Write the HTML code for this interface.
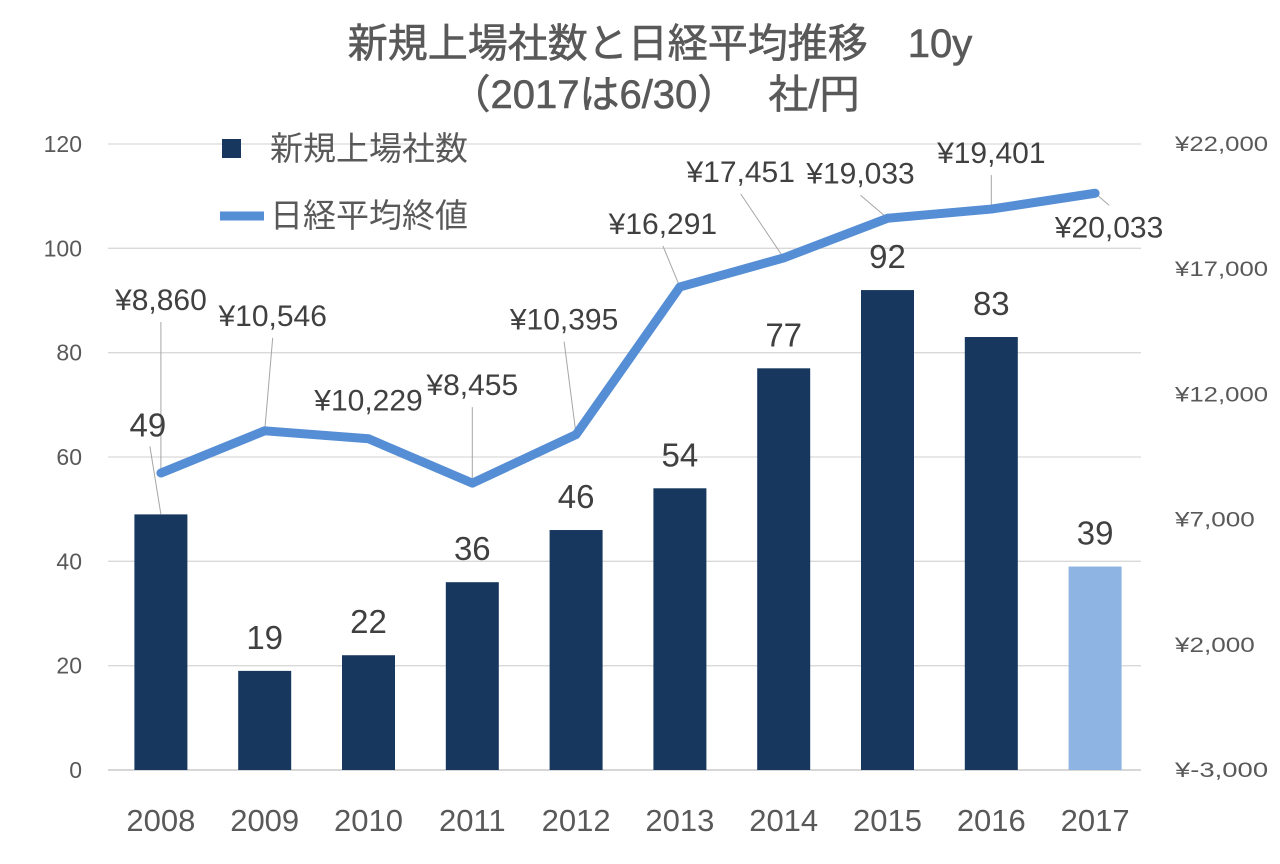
<!DOCTYPE html>
<html><head><meta charset="utf-8">
<style>
html,body{margin:0;padding:0;background:#fff;}
svg text{font-family:"Liberation Sans","Noto Sans CJK JP",sans-serif;}
</style></head>
<body>
<svg id="chart" width="1280" height="859" viewBox="0 0 1280 859">
<text x="660" y="57" text-anchor="middle" font-size="40" fill="#595959" stroke="#595959" stroke-width="0.6">新規上場社数と日経平均推移　10y</text>
<text x="655" y="108" text-anchor="middle" font-size="40" fill="#595959" stroke="#595959" stroke-width="0.6">（2017は6/30）　 社/円</text>
<g id="grid"></g>
<g id="bars"></g>
<g id="leaders"></g>
<g id="line"></g>
<g id="labels"></g>
<g>
<rect x="222" y="139" width="19" height="19" fill="#17375e"/>
<text x="270" y="160" font-size="33" fill="#595959">新規上場社数</text>
<line x1="220" y1="216" x2="264" y2="216" stroke="#558ed5" stroke-width="9"/>
<text x="270" y="227" font-size="33" fill="#595959">日経平均終値</text>
</g>
</svg>
<script>
const categories=["2008","2009","2010","2011","2012","2013","2014","2015","2016","2017"];
const ipoCounts=[49,19,22,36,46,54,77,92,83,39];
const nikkei=[8860,10546,10229,8455,10395,16291,17451,19033,19401,20033];
const nikkeiLabels=["¥8,860","¥10,546","¥10,229","¥8,455","¥10,395","¥16,291","¥17,451","¥19,033","¥19,401","¥20,033"];
const leftTicks=[0,20,40,60,80,100,120];
const rightTicks=[-3000,2000,7000,12000,17000,22000];
const rightTickLabels=["¥-3,000","¥2,000","¥7,000","¥12,000","¥17,000","¥22,000"];

const NS="http://www.w3.org/2000/svg";
const X0=109,X1=1147,Y0=770,Y1=144;
const band=(X1-X0)/categories.length;
const xc=i=>X0+band*(i+0.5);
const yL=v=>Y0-(v-0)/(120-0)*(Y0-Y1);
const yR=v=>Y0-(v+3000)/25000*(Y0-Y1);
function mk(tag,attrs,parent,txt){const e=document.createElementNS(NS,tag);for(const k in attrs)e.setAttribute(k,attrs[k]);if(txt!==undefined)e.textContent=txt;parent.appendChild(e);return e;}
const grid=document.getElementById('grid'),bars=document.getElementById('bars'),lineG=document.getElementById('line'),labels=document.getElementById('labels'),leaders=document.getElementById('leaders');

leftTicks.forEach(t=>{
  const y=yL(t);
  const l=mk('line',{x1:108,x2:1141,y1:y,y2:y,stroke:t===0?'#bfbfbf':'#d9d9d9','stroke-width':1.3},grid);
  
  
  const tx=mk('text',{x:82,y:y+8,'text-anchor':'end','font-size':23,fill:'#595959'},grid,String(t));
  
  
});
rightTicks.forEach((t,i)=>{
  const tx=mk('text',{x:1175,y:yR(t)+7,'font-size':21,fill:'#595959','textLength':rightTickLabels[i].length*13.3,'lengthAdjust':'spacingAndGlyphs'},grid,rightTickLabels[i]);
  
  
});
categories.forEach((c,i)=>{
  const tx=mk('text',{x:xc(i),y:831,'text-anchor':'middle','font-size':31,fill:'#595959'},grid,c);
  
  
});
const bw=53;
ipoCounts.forEach((v,i)=>{
  const r=mk('rect',{x:xc(i)-bw/2,y:yL(v),width:bw,height:Y0-yL(v),fill:i===categories.length-1?'#8db4e2':'#17375e'},bars);
  
  
});
ipoCounts.forEach((v,i)=>{
  let x=xc(i),y=yL(v)-22;
  if(i===0){x=xc(i)-13;y=yL(v)-78;
    const ld=mk('line',{x1:x+2,y1:y+10,x2:xc(i),y2:yL(v),stroke:'#a6a6a6','stroke-width':1},leaders);
    
    }
  const t=mk('text',{x:x,y:y,'text-anchor':'middle','font-size':33,fill:'#404040'},labels,String(v));
  
  
});
const pts=nikkei.map((v,i)=>xc(i)+','+yR(v)).join(' ');
const pl=mk('polyline',{points:pts,fill:'none',stroke:'#558ed5','stroke-width':9,'stroke-linejoin':'round','stroke-linecap':'round'},lineG);


const off=[[0,-163],[8,-105],[0,-28],[0,-88],[-12,-105],[-17,-53],[-43,-76],[-27,-35],[0,-46],[14,44]];
const leaderOn=[1,1,0,1,1,1,1,1,1,1];
nikkei.forEach((v,i)=>{
  const px=xc(i),py=yR(v);
  const lx=px+off[i][0],ly=py+off[i][1];
  if(leaderOn[i]){
    const y1=i===9?ly-32:ly+12;
    const ld=mk('line',{x1:lx,y1:y1,x2:px,y2:py,stroke:'#a6a6a6','stroke-width':1},leaders);
    
    
  }
  const t=mk('text',{x:lx,y:ly,'text-anchor':'middle','font-size':30,fill:'#404040'},labels,nikkeiLabels[i]);
  
  
});
</script>
</body></html>
